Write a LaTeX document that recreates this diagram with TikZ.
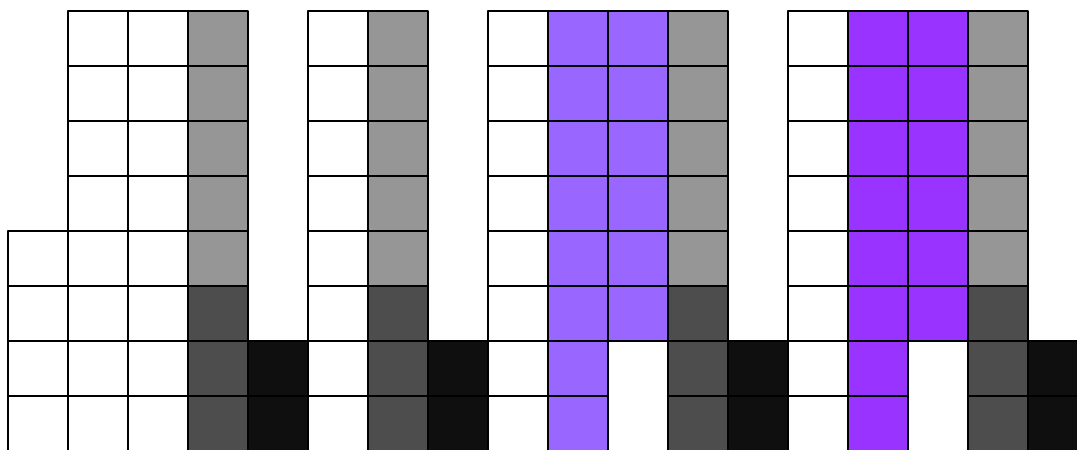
\documentclass[tikz,border=0pt]{standalone}
\usepackage{tikz}

\definecolor{paleGrey}{HTML}{969696}
\definecolor{deepGrey}{HTML}{4D4D4D}
\definecolor{nearBlack}{HTML}{0F0F0F}
\definecolor{lavender}{HTML}{9966FF}
\definecolor{violet}{HTML}{9933FF}

\begin{document}
\begin{tikzpicture}[
				x=60pt,
				y=-55pt,
				line join=round,
				cell/.style={draw=black, line width=1.2pt},
				blank/.style={cell, fill=white},
				pale/.style={cell, fill=paleGrey},
				deep/.style={cell, fill=deepGrey},
				ink/.style={cell, fill=nearBlack},
				lav/.style={cell, fill=lavender},
				vio/.style={cell, fill=violet}
				]
				\useasboundingbox (-0.1333,-0.2) rectangle (17.8167,7.9818);
				\clip (-0.1333,-0.2) rectangle (17.8167,7.9818);
				
				% First block
				\begin{scope}
					\foreach \y in {4,...,7}
					\draw[blank] (0,\y) rectangle ++(1,1);
					\foreach \x in {1,2}
					\foreach \y in {0,...,7}
					\draw[blank] (\x,\y) rectangle ++(1,1);
					
					\foreach \y in {0,...,4}
					\draw[pale] (3,\y) rectangle ++(1,1);
					\foreach \y in {5,6,7}
					\draw[deep] (3,\y) rectangle ++(1,1);
					\foreach \y in {6,7}
					\draw[ink] (4,\y) rectangle ++(1,1);
				\end{scope}
				
				% Second block
				\begin{scope}[shift={(5,0)}]
					\foreach \y in {0,...,7}
					\draw[blank] (0,\y) rectangle ++(1,1);
					\foreach \y in {0,...,4}
					\draw[pale] (1,\y) rectangle ++(1,1);
					\foreach \y in {5,6,7}
					\draw[deep] (1,\y) rectangle ++(1,1);
					\foreach \y in {6,7}
					\draw[ink] (2,\y) rectangle ++(1,1);
				\end{scope}
				
				% Third and fourth blocks
				\foreach \sx/\tone in {8/lav,13/vio}{
					\begin{scope}[shift={(\sx,0)}]
						\foreach \y in {0,...,7}
						\draw[blank] (0,\y) rectangle ++(1,1);
						\foreach \y in {0,...,7}
						\draw[\tone] (1,\y) rectangle ++(1,1);
						\foreach \y in {0,...,5}
						\draw[\tone] (2,\y) rectangle ++(1,1);
						
						\foreach \y in {0,...,4}
						\draw[pale] (3,\y) rectangle ++(1,1);
						\foreach \y in {5,6,7}
						\draw[deep] (3,\y) rectangle ++(1,1);
						\foreach \y in {6,7}
						\draw[ink] (4,\y) rectangle ++(1,1);
					\end{scope}
				}
			\end{tikzpicture}
\end{document}
